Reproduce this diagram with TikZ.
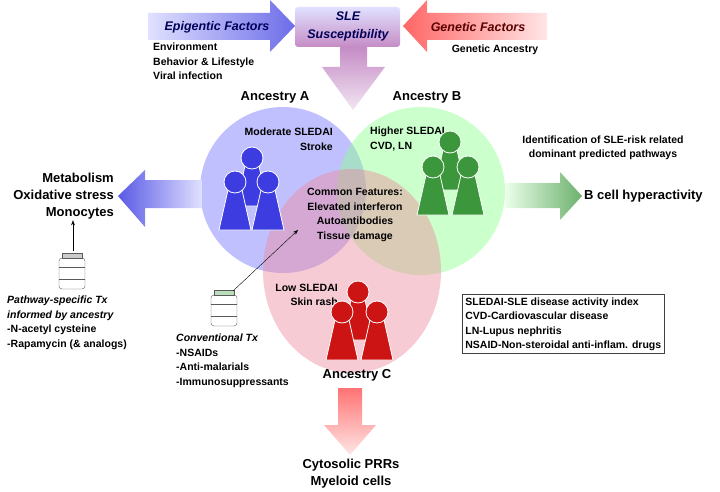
\documentclass[tikz,border=0pt]{standalone}
\usepackage{fontspec}
\setmainfont{Liberation Sans}
\usepackage{tikz}
\usetikzlibrary{arrows.meta,positioning}
\definecolor{blueA}{RGB}{60,60,225}
\definecolor{greenB}{RGB}{60,150,60}
\definecolor{redC}{RGB}{205,20,20}
\tikzset{
  txt/.style={font=\bfseries\fontsize{10.5}{14.5}\selectfont,inner sep=1pt},
  big/.style={font=\bfseries\fontsize{13}{17}\selectfont,inner sep=1pt},
  head/.style={font=\bfseries\itshape\fontsize{12.5}{18}\selectfont,inner sep=1pt},
  venn/.style={fill opacity=0.45,draw=none},
  pics/person/.style={code={
    \filldraw[#1,draw=white,line width=0.8pt] (-7,8) -- (7,8) -- (16,48) -- (-16,48) -- cycle;
    \filldraw[#1,draw=white,line width=0.8pt] (0,0) circle (11);}},
  pics/bottle/.style={code={
    \draw[gray!70!black,fill=white,rounded corners=3] (-13,5) rectangle (13,36);
    \draw[gray!70!black,fill=#1] (-10,0) rectangle (10,5);
    \draw[gray!70!black] (-13,14) -- (13,14) (-13,26) -- (13,26);}}
}
\begin{document}
\begin{tikzpicture}[x=1pt,y=-1pt]
\useasboundingbox (0,0) rectangle (720,492);
% top row
\shade[left color=blue!12,right color=blueA!75] (148,13) -- (270,13) -- (270,0) -- (295,26) -- (270,52) -- (270,40) -- (148,40) -- cycle;
\shade[top color=blue!12,bottom color=violet!45,rounded corners=3] (295,7) rectangle (400,47);
\shade[right color=red!10,left color=red!60] (547,13) -- (427,13) -- (427,0) -- (403,26) -- (427,52) -- (427,40) -- (547,40) -- cycle;
\node[head,text=blue!35!black] (epi) at (217,27) {Epigentic Factors};
\node[head,text=blue!35!black,align=center] (sle) at (348,26) {SLE\\Susceptibility};
\node[head,text=red!35!black] (gen) at (478,27) {Genetic Factors};
\node[txt,align=left,anchor=north west] (env) at (152,42) {Environment\\Behavior \& Lifestyle\\Viral infection};
\node[txt] (anc) at (495,50) {Genetic Ancestry};
\shade[top color=violet!45,bottom color=violet!10] (340,47) -- (367,47) -- (367,67) -- (385,67) -- (353,110) -- (322,67) -- (340,67) -- cycle;
% venn circles
\fill[venn,fill=blue!55] (283,190) circle (83);
\fill[venn,fill=green!45] (421,191) circle (84);
\fill[venn,fill=red!35!purple!45] (352,271) ellipse (89 and 102);
\node[big] (ancA) at (275,97) {Ancestry A};
\node[big] (ancB) at (427,97) {Ancestry B};
\node[big] (ancC) at (357,375) {Ancestry C};
\node[txt,align=right,anchor=east] (modA) at (334,139) {Moderate SLEDAI\\Stroke};
\node[txt,align=left,anchor=west] (hiB) at (369,139) {Higher SLEDAI\\CVD, LN};
\node[txt,align=right,anchor=east] (lowC) at (339,295) {Low SLEDAI\\Skin rash};
\node[txt,align=center] (common) at (355,215) {Common Features:\\Elevated interferon\\Autoantibodies\\Tissue damage};
% people
\pic at (252,158) {person=blueA};
\pic at (235,182) {person=blueA};
\pic at (268,182) {person=blueA};
\pic at (450,142) {person=greenB};
\pic at (433,167) {person=greenB};
\pic at (468,167) {person=greenB};
\pic at (358,292) {person=redC};
\pic at (342,312) {person=redC};
\pic at (377,312) {person=redC};
% side arrows
\shade[left color=blueA!85,right color=blue!12] (202,180) -- (145,180) -- (145,170) -- (118,196) -- (145,227) -- (145,208) -- (202,208) -- cycle;
\node[big,align=right,anchor=east] (meta) at (115,196) {Metabolism\\Oxidative stress\\Monocytes};
\shade[right color=greenB!75,left color=green!8] (505,183) -- (560,183) -- (560,172) -- (582,196) -- (560,220) -- (560,208) -- (505,208) -- cycle;
\node[big,anchor=west] (bcell) at (583,196) {B cell hyperactivity};
\node[txt,align=center] (ident) at (603,148) {Identification of SLE-risk related\\dominant predicted pathways};
% treatments
\pic at (72,253) {bottle=gray!40};
\coordinate (bot1top) at (73,251);
\draw[-{Stealth[length=5pt]}] (bot1top) -- (meta.south -| bot1top);
\node[txt,align=left,anchor=north west] (path) at (6,295) {\itshape Pathway-specific Tx\\\itshape informed by ancestry\\-N-acetyl cysteine\\-Rapamycin (\& analogs)};
\pic at (224,290) {bottle=green!35!gray!40};
\coordinate (bot2top) at (233,291);
\coordinate (commonpt) at (298,230);
\draw[-{Stealth[length=5pt]}] (bot2top) -- (commonpt);
\node[txt,align=left,anchor=north west] (conv) at (175,333) {\itshape Conventional Tx\\-NSAIDs\\-Anti-malarials\\-Immunosuppressants};
% bottom arrow
\shade[top color=red!55,bottom color=red!10] (338,388) -- (362,388) -- (362,425) -- (376,425) -- (350,455) -- (324,425) -- (338,425) -- cycle;
\node[big,align=center] (cyto) at (351,474) {Cytosolic PRRs\\Myeloid cells};
% legend
\node[txt,draw=black!75,thick,align=left,anchor=north west,inner sep=3pt] (legend) at (462,294)
  {SLEDAI-SLE disease activity index\\CVD-Cardiovascular disease\\LN-Lupus nephritis\\NSAID-Non-steroidal anti-inflam. drugs};
\end{tikzpicture}
\end{document}
